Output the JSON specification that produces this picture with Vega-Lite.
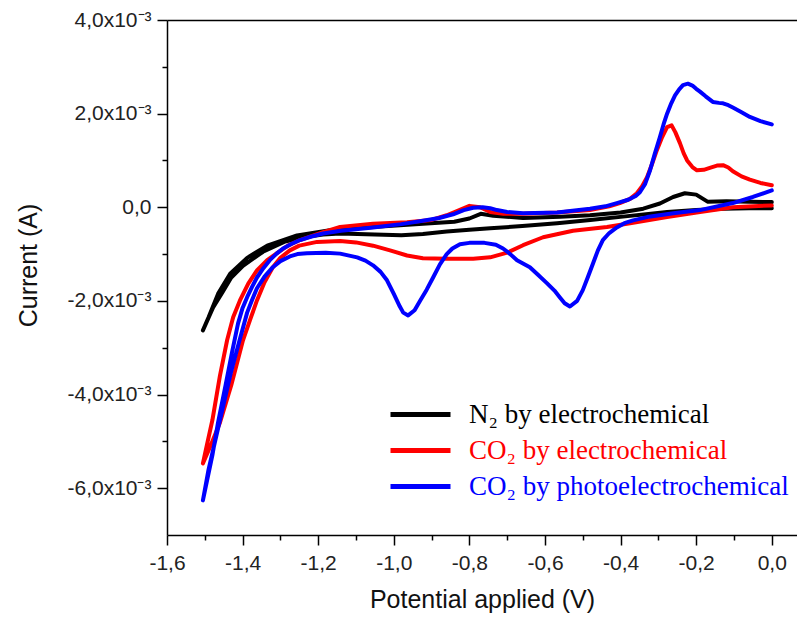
{
 "$schema": "https://vega.github.io/schema/vega-lite/v6.json",
 "width": 630, "height": 515,
 "autosize": {"type": "none"},
 "padding": {"left": 167, "top": 20, "right": 0, "bottom": 82},
 "background": "white",
 "config": {"view": {"stroke": null}, "axis": {"grid": false}},
 "data": {"values": [
  {"s":"N2","k":0,"V":0,"I":-0.00002},{"s":"N2","k":1,"V":-0.06,"I":-0.00002},{"s":"N2","k":2,"V":-0.129,"I":-0.00003},{"s":"N2","k":3,"V":-0.2,"I":-0.00006},{"s":"N2","k":4,"V":-0.277,"I":-0.0001},{"s":"N2","k":5,"V":-0.394,"I":-0.0002},{"s":"N2","k":6,"V":-0.48,"I":-0.00027},{"s":"N2","k":7,"V":-0.568,"I":-0.00034},{"s":"N2","k":8,"V":-0.66,"I":-0.0004},{"s":"N2","k":9,"V":-0.745,"I":-0.00045},{"s":"N2","k":10,"V":-0.8,"I":-0.00048},{"s":"N2","k":11,"V":-0.86,"I":-0.00052},{"s":"N2","k":12,"V":-0.923,"I":-0.00057},{"s":"N2","k":13,"V":-0.98,"I":-0.0006},{"s":"N2","k":14,"V":-1.05,"I":-0.00058},{"s":"N2","k":15,"V":-1.142,"I":-0.00056},{"s":"N2","k":16,"V":-1.187,"I":-0.00058},{"s":"N2","k":17,"V":-1.24,"I":-0.00064},{"s":"N2","k":18,"V":-1.29,"I":-0.00074},{"s":"N2","k":19,"V":-1.346,"I":-0.00095},{"s":"N2","k":20,"V":-1.399,"I":-0.00125},{"s":"N2","k":21,"V":-1.43,"I":-0.0015},{"s":"N2","k":22,"V":-1.452,"I":-0.0018},{"s":"N2","k":23,"V":-1.478,"I":-0.00214},{"s":"N2","k":24,"V":-1.505,"I":-0.00263},{"s":"N2","k":25,"V":-1.49,"I":-0.00235},{"s":"N2","k":26,"V":-1.465,"I":-0.00185},{"s":"N2","k":27,"V":-1.433,"I":-0.00142},{"s":"N2","k":28,"V":-1.388,"I":-0.00108},{"s":"N2","k":29,"V":-1.335,"I":-0.00082},{"s":"N2","k":30,"V":-1.256,"I":-0.0006},{"s":"N2","k":31,"V":-1.169,"I":-0.00049},{"s":"N2","k":32,"V":-1.055,"I":-0.00042},{"s":"N2","k":33,"V":-0.923,"I":-0.00035},{"s":"N2","k":34,"V":-0.84,"I":-0.00031},{"s":"N2","k":35,"V":-0.8,"I":-0.00024},{"s":"N2","k":36,"V":-0.77,"I":-0.00014},{"s":"N2","k":37,"V":-0.737,"I":-0.00018},{"s":"N2","k":38,"V":-0.658,"I":-0.00023},{"s":"N2","k":39,"V":-0.56,"I":-0.0002},{"s":"N2","k":40,"V":-0.481,"I":-0.00017},{"s":"N2","k":41,"V":-0.4,"I":-0.00011},{"s":"N2","k":42,"V":-0.34,"I":-0.00003},{"s":"N2","k":43,"V":-0.296,"I":0.00008},{"s":"N2","k":44,"V":-0.261,"I":0.00022},{"s":"N2","k":45,"V":-0.23,"I":0.0003},{"s":"N2","k":46,"V":-0.2,"I":0.00027},{"s":"N2","k":47,"V":-0.17,"I":0.00012},{"s":"N2","k":48,"V":-0.12,"I":0.00013},{"s":"N2","k":49,"V":-0.06,"I":0.00012},{"s":"N2","k":50,"V":0,"I":0.00011},

  {"s":"CO2e","k":0,"V":0,"I":0.00004},{"s":"CO2e","k":1,"V":-0.103,"I":0},{"s":"CO2e","k":2,"V":-0.19,"I":-0.0001},{"s":"CO2e","k":3,"V":-0.277,"I":-0.00021},{"s":"CO2e","k":4,"V":-0.367,"I":-0.00033},{"s":"CO2e","k":5,"V":-0.436,"I":-0.00042},{"s":"CO2e","k":6,"V":-0.526,"I":-0.0005},{"s":"CO2e","k":7,"V":-0.605,"I":-0.00064},{"s":"CO2e","k":8,"V":-0.658,"I":-0.00081},{"s":"CO2e","k":9,"V":-0.7,"I":-0.00097},{"s":"CO2e","k":10,"V":-0.745,"I":-0.00107},{"s":"CO2e","k":11,"V":-0.79,"I":-0.0011},{"s":"CO2e","k":12,"V":-0.86,"I":-0.0011},{"s":"CO2e","k":13,"V":-0.923,"I":-0.00109},{"s":"CO2e","k":14,"V":-0.965,"I":-0.00103},{"s":"CO2e","k":15,"V":-1.01,"I":-0.00092},{"s":"CO2e","k":16,"V":-1.055,"I":-0.00082},{"s":"CO2e","k":17,"V":-1.1,"I":-0.00075},{"s":"CO2e","k":18,"V":-1.142,"I":-0.00072},{"s":"CO2e","k":19,"V":-1.203,"I":-0.00074},{"s":"CO2e","k":20,"V":-1.25,"I":-0.00082},{"s":"CO2e","k":21,"V":-1.275,"I":-0.00092},{"s":"CO2e","k":22,"V":-1.3,"I":-0.00108},{"s":"CO2e","k":23,"V":-1.32,"I":-0.00128},{"s":"CO2e","k":24,"V":-1.342,"I":-0.0016},{"s":"CO2e","k":25,"V":-1.362,"I":-0.00199},{"s":"CO2e","k":26,"V":-1.38,"I":-0.0024},{"s":"CO2e","k":27,"V":-1.399,"I":-0.00284},{"s":"CO2e","k":28,"V":-1.43,"I":-0.0038},{"s":"CO2e","k":29,"V":-1.46,"I":-0.0046},{"s":"CO2e","k":30,"V":-1.485,"I":-0.0051},{"s":"CO2e","k":31,"V":-1.505,"I":-0.00547},{"s":"CO2e","k":32,"V":-1.495,"I":-0.0051},{"s":"CO2e","k":33,"V":-1.48,"I":-0.00455},{"s":"CO2e","k":34,"V":-1.46,"I":-0.0036},{"s":"CO2e","k":35,"V":-1.441,"I":-0.00284},{"s":"CO2e","k":36,"V":-1.425,"I":-0.00235},{"s":"CO2e","k":37,"V":-1.407,"I":-0.00199},{"s":"CO2e","k":38,"V":-1.385,"I":-0.00163},{"s":"CO2e","k":39,"V":-1.362,"I":-0.00135},{"s":"CO2e","k":40,"V":-1.335,"I":-0.00113},{"s":"CO2e","k":41,"V":-1.309,"I":-0.00098},{"s":"CO2e","k":42,"V":-1.28,"I":-0.00082},{"s":"CO2e","k":43,"V":-1.248,"I":-0.0007},{"s":"CO2e","k":44,"V":-1.187,"I":-0.00053},{"s":"CO2e","k":45,"V":-1.142,"I":-0.00042},{"s":"CO2e","k":46,"V":-1.055,"I":-0.00035},{"s":"CO2e","k":47,"V":-0.965,"I":-0.00032},{"s":"CO2e","k":48,"V":-0.9,"I":-0.00027},{"s":"CO2e","k":49,"V":-0.86,"I":-0.00017},{"s":"CO2e","k":50,"V":-0.833,"I":-0.00008},{"s":"CO2e","k":51,"V":-0.8,"I":0.00003},{"s":"CO2e","k":52,"V":-0.772,"I":0},{"s":"CO2e","k":53,"V":-0.745,"I":-0.0001},{"s":"CO2e","k":54,"V":-0.71,"I":-0.00014},{"s":"CO2e","k":55,"V":-0.658,"I":-0.00014},{"s":"CO2e","k":56,"V":-0.568,"I":-0.00011},{"s":"CO2e","k":57,"V":-0.481,"I":-0.00006},{"s":"CO2e","k":58,"V":-0.43,"I":0.00002},{"s":"CO2e","k":59,"V":-0.402,"I":0.00009},{"s":"CO2e","k":60,"V":-0.375,"I":0.00018},{"s":"CO2e","k":61,"V":-0.357,"I":0.0003},{"s":"CO2e","k":62,"V":-0.343,"I":0.00045},{"s":"CO2e","k":63,"V":-0.33,"I":0.00064},{"s":"CO2e","k":64,"V":-0.317,"I":0.00092},{"s":"CO2e","k":65,"V":-0.304,"I":0.00122},{"s":"CO2e","k":66,"V":-0.29,"I":0.0015},{"s":"CO2e","k":67,"V":-0.277,"I":0.00171},{"s":"CO2e","k":68,"V":-0.265,"I":0.00175},{"s":"CO2e","k":69,"V":-0.255,"I":0.0016},{"s":"CO2e","k":70,"V":-0.243,"I":0.00137},{"s":"CO2e","k":71,"V":-0.233,"I":0.00115},{"s":"CO2e","k":72,"V":-0.224,"I":0.001},{"s":"CO2e","k":73,"V":-0.21,"I":0.00086},{"s":"CO2e","k":74,"V":-0.198,"I":0.00079},{"s":"CO2e","k":75,"V":-0.18,"I":0.0008},{"s":"CO2e","k":76,"V":-0.164,"I":0.00084},{"s":"CO2e","k":77,"V":-0.145,"I":0.00089},{"s":"CO2e","k":78,"V":-0.129,"I":0.0009},{"s":"CO2e","k":79,"V":-0.115,"I":0.00085},{"s":"CO2e","k":80,"V":-0.103,"I":0.00077},{"s":"CO2e","k":81,"V":-0.08,"I":0.00066},{"s":"CO2e","k":82,"V":-0.058,"I":0.00059},{"s":"CO2e","k":83,"V":-0.03,"I":0.00052},{"s":"CO2e","k":84,"V":0,"I":0.00047},

  {"s":"CO2p","k":0,"V":0,"I":0.00036},{"s":"CO2p","k":1,"V":-0.05,"I":0.00022},{"s":"CO2p","k":2,"V":-0.103,"I":0.00009},{"s":"CO2p","k":3,"V":-0.19,"I":-0.00006},{"s":"CO2p","k":4,"V":-0.26,"I":-0.00013},{"s":"CO2p","k":5,"V":-0.33,"I":-0.00021},{"s":"CO2p","k":6,"V":-0.367,"I":-0.00028},{"s":"CO2p","k":7,"V":-0.39,"I":-0.00034},{"s":"CO2p","k":8,"V":-0.41,"I":-0.00043},{"s":"CO2p","k":9,"V":-0.43,"I":-0.00055},{"s":"CO2p","k":10,"V":-0.447,"I":-0.0007},{"s":"CO2p","k":11,"V":-0.46,"I":-0.00092},{"s":"CO2p","k":12,"V":-0.473,"I":-0.0012},{"s":"CO2p","k":13,"V":-0.487,"I":-0.0015},{"s":"CO2p","k":14,"V":-0.5,"I":-0.00177},{"s":"CO2p","k":15,"V":-0.515,"I":-0.002},{"s":"CO2p","k":16,"V":-0.534,"I":-0.00212},{"s":"CO2p","k":17,"V":-0.548,"I":-0.00205},{"s":"CO2p","k":18,"V":-0.56,"I":-0.00193},{"s":"CO2p","k":19,"V":-0.575,"I":-0.00178},{"s":"CO2p","k":20,"V":-0.595,"I":-0.00162},{"s":"CO2p","k":21,"V":-0.62,"I":-0.00143},{"s":"CO2p","k":22,"V":-0.64,"I":-0.00128},{"s":"CO2p","k":23,"V":-0.674,"I":-0.00113},{"s":"CO2p","k":24,"V":-0.695,"I":-0.00098},{"s":"CO2p","k":25,"V":-0.711,"I":-0.00088},{"s":"CO2p","k":26,"V":-0.73,"I":-0.0008},{"s":"CO2p","k":27,"V":-0.76,"I":-0.00076},{"s":"CO2p","k":28,"V":-0.8,"I":-0.00076},{"s":"CO2p","k":29,"V":-0.825,"I":-0.00079},{"s":"CO2p","k":30,"V":-0.845,"I":-0.00088},{"s":"CO2p","k":31,"V":-0.86,"I":-0.001},{"s":"CO2p","k":32,"V":-0.878,"I":-0.00122},{"s":"CO2p","k":33,"V":-0.896,"I":-0.0015},{"s":"CO2p","k":34,"V":-0.913,"I":-0.00176},{"s":"CO2p","k":35,"V":-0.93,"I":-0.00199},{"s":"CO2p","k":36,"V":-0.945,"I":-0.0022},{"s":"CO2p","k":37,"V":-0.962,"I":-0.00231},{"s":"CO2p","k":38,"V":-0.975,"I":-0.00225},{"s":"CO2p","k":39,"V":-0.984,"I":-0.00212},{"s":"CO2p","k":40,"V":-1.0,"I":-0.00185},{"s":"CO2p","k":41,"V":-1.018,"I":-0.00156},{"s":"CO2p","k":42,"V":-1.035,"I":-0.00138},{"s":"CO2p","k":43,"V":-1.055,"I":-0.00124},{"s":"CO2p","k":44,"V":-1.075,"I":-0.00114},{"s":"CO2p","k":45,"V":-1.097,"I":-0.00107},{"s":"CO2p","k":46,"V":-1.142,"I":-0.00099},{"s":"CO2p","k":47,"V":-1.18,"I":-0.00097},{"s":"CO2p","k":48,"V":-1.23,"I":-0.00098},{"s":"CO2p","k":49,"V":-1.255,"I":-0.001},{"s":"CO2p","k":50,"V":-1.275,"I":-0.00105},{"s":"CO2p","k":51,"V":-1.3,"I":-0.00115},{"s":"CO2p","k":52,"V":-1.32,"I":-0.00128},{"s":"CO2p","k":53,"V":-1.342,"I":-0.00148},{"s":"CO2p","k":54,"V":-1.362,"I":-0.00173},{"s":"CO2p","k":55,"V":-1.375,"I":-0.00198},{"s":"CO2p","k":56,"V":-1.388,"I":-0.00225},{"s":"CO2p","k":57,"V":-1.41,"I":-0.0029},{"s":"CO2p","k":58,"V":-1.43,"I":-0.0035},{"s":"CO2p","k":59,"V":-1.45,"I":-0.0042},{"s":"CO2p","k":60,"V":-1.47,"I":-0.0049},{"s":"CO2p","k":61,"V":-1.49,"I":-0.0056},{"s":"CO2p","k":62,"V":-1.505,"I":-0.00626},{"s":"CO2p","k":63,"V":-1.497,"I":-0.00595},{"s":"CO2p","k":64,"V":-1.48,"I":-0.0053},{"s":"CO2p","k":65,"V":-1.465,"I":-0.0046},{"s":"CO2p","k":66,"V":-1.445,"I":-0.0038},{"s":"CO2p","k":67,"V":-1.428,"I":-0.0031},{"s":"CO2p","k":68,"V":-1.412,"I":-0.00248},{"s":"CO2p","k":69,"V":-1.4,"I":-0.00215},{"s":"CO2p","k":70,"V":-1.388,"I":-0.00192},{"s":"CO2p","k":71,"V":-1.375,"I":-0.0017},{"s":"CO2p","k":72,"V":-1.362,"I":-0.0015},{"s":"CO2p","k":73,"V":-1.345,"I":-0.0013},{"s":"CO2p","k":74,"V":-1.328,"I":-0.00113},{"s":"CO2p","k":75,"V":-1.31,"I":-0.00099},{"s":"CO2p","k":76,"V":-1.293,"I":-0.00088},{"s":"CO2p","k":77,"V":-1.27,"I":-0.00078},{"s":"CO2p","k":78,"V":-1.248,"I":-0.0007},{"s":"CO2p","k":79,"V":-1.22,"I":-0.00063},{"s":"CO2p","k":80,"V":-1.187,"I":-0.00056},{"s":"CO2p","k":81,"V":-1.14,"I":-0.0005},{"s":"CO2p","k":82,"V":-1.055,"I":-0.00043},{"s":"CO2p","k":83,"V":-0.98,"I":-0.00036},{"s":"CO2p","k":84,"V":-0.923,"I":-0.00029},{"s":"CO2p","k":85,"V":-0.88,"I":-0.00023},{"s":"CO2p","k":86,"V":-0.843,"I":-0.00015},{"s":"CO2p","k":87,"V":-0.815,"I":-0.00006},{"s":"CO2p","k":88,"V":-0.79,"I":-0.00001},{"s":"CO2p","k":89,"V":-0.765,"I":0},{"s":"CO2p","k":90,"V":-0.745,"I":-0.00002},{"s":"CO2p","k":91,"V":-0.727,"I":-0.00006},{"s":"CO2p","k":92,"V":-0.7,"I":-0.0001},{"s":"CO2p","k":93,"V":-0.658,"I":-0.00013},{"s":"CO2p","k":94,"V":-0.568,"I":-0.00011},{"s":"CO2p","k":95,"V":-0.481,"I":-0.00003},{"s":"CO2p","k":96,"V":-0.44,"I":0.00002},{"s":"CO2p","k":97,"V":-0.41,"I":0.00009},{"s":"CO2p","k":98,"V":-0.38,"I":0.00016},{"s":"CO2p","k":99,"V":-0.36,"I":0.00024},{"s":"CO2p","k":100,"V":-0.349,"I":0.00032},{"s":"CO2p","k":101,"V":-0.335,"I":0.0005},{"s":"CO2p","k":102,"V":-0.322,"I":0.00079},{"s":"CO2p","k":103,"V":-0.31,"I":0.00113},{"s":"CO2p","k":104,"V":-0.296,"I":0.0015},{"s":"CO2p","k":105,"V":-0.286,"I":0.00178},{"s":"CO2p","k":106,"V":-0.277,"I":0.002},{"s":"CO2p","k":107,"V":-0.266,"I":0.00222},{"s":"CO2p","k":108,"V":-0.256,"I":0.00239},{"s":"CO2p","k":109,"V":-0.245,"I":0.00252},{"s":"CO2p","k":110,"V":-0.235,"I":0.00261},{"s":"CO2p","k":111,"V":-0.222,"I":0.00264},{"s":"CO2p","k":112,"V":-0.21,"I":0.0026},{"s":"CO2p","k":113,"V":-0.2,"I":0.00253},{"s":"CO2p","k":114,"V":-0.19,"I":0.00247},{"s":"CO2p","k":115,"V":-0.175,"I":0.00237},{"s":"CO2p","k":116,"V":-0.156,"I":0.00225},{"s":"CO2p","k":117,"V":-0.14,"I":0.00223},{"s":"CO2p","k":118,"V":-0.129,"I":0.00222},{"s":"CO2p","k":119,"V":-0.115,"I":0.00218},{"s":"CO2p","k":120,"V":-0.103,"I":0.00213},{"s":"CO2p","k":121,"V":-0.08,"I":0.00203},{"s":"CO2p","k":122,"V":-0.058,"I":0.00193},{"s":"CO2p","k":123,"V":-0.03,"I":0.00184},{"s":"CO2p","k":124,"V":0,"I":0.00177}
 ]},
 "layer": [
  {
   "mark": {"type": "line", "strokeOpacity": 0},
   "encoding": {
    "x": {"field": "V", "type": "quantitative", "scale": {"domain": [-1.6, 0.0667], "nice": false, "zero": false},
      "axis": {"orient": "top", "labels": false, "ticks": false, "title": null, "domainColor": "black", "domainWidth": 1.5, "grid": false}},
    "y": {"field": "I", "type": "quantitative", "scale": {"domain": [-0.007, 0.004], "nice": false, "zero": false},
      "axis": {"orient": "left",
        "values": [-0.006,-0.005,-0.004,-0.003,-0.002,-0.001,0,0.001,0.002,0.003,0.004],
        "labelExpr": "abs(round(datum.value*1000)) % 2 == 1 ? '' : (datum.value == 0 ? '0,0' : replace(replace(format(datum.value*1000, '.1f'), '.', ','), '\u2212', '-') + 'x10\u207b\u00b3')",
        "tickSize": {"condition": {"test": "abs(round(datum.value*1000)) % 2 == 1", "value": 5}, "value": 10},
        "tickColor": "black", "tickWidth": 1.5, "domainColor": "black", "domainWidth": 1.5,
        "labelFont": "Liberation Sans", "labelFontSize": 21, "labelColor": "#222", "labelPadding": 6,
        "labelFlush": false, "labelOverlap": false,
        "title": "Current (A)", "titleFont": "Liberation Sans", "titleFontSize": 25, "titleFontWeight": "normal", "titleColor": "#111",
        "titleX": -139, "titleY": 245, "titleAngle": -90, "titleAlign": "center", "titleBaseline": "middle", "grid": false}},
    "detail": {"field": "s", "type": "nominal"},
    "order": {"field": "k", "type": "quantitative"}
   }
  },
  {
   "mark": {"type": "line", "strokeWidth": 4, "strokeJoin": "round", "strokeCap": "round"},
   "encoding": {
    "x": {"field": "V", "type": "quantitative", "scale": {"domain": [-1.6, 0.0667], "nice": false, "zero": false},
      "axis": {"orient": "bottom",
        "values": [-1.6,-1.5,-1.4,-1.3,-1.2,-1.1,-1.0,-0.9,-0.8,-0.7,-0.6,-0.5,-0.4,-0.3,-0.2,-0.1,0],
        "labelExpr": "abs(round(datum.value*10)) % 2 == 1 ? '' : replace(replace(format(datum.value, '.1f'), '.', ','), '\u2212', '-')",
        "tickSize": {"condition": {"test": "abs(round(datum.value*10)) % 2 == 1", "value": 5}, "value": 10},
        "tickColor": "black", "tickWidth": 1.5, "domainColor": "black", "domainWidth": 1.5,
        "labelFont": "Liberation Sans", "labelFontSize": 21, "labelColor": "#222", "labelPadding": 7,
        "labelFlush": false, "labelOverlap": false,
        "title": "Potential applied (V)", "titleFont": "Liberation Sans", "titleFontSize": 25, "titleFontWeight": "normal", "titleColor": "#111", "titlePadding": 14, "grid": false}},
    "y": {"field": "I", "type": "quantitative", "scale": {"domain": [-0.007, 0.004], "nice": false, "zero": false},
      "axis": {"orient": "left",
        "values": [-0.006,-0.005,-0.004,-0.003,-0.002,-0.001,0,0.001,0.002,0.003,0.004],
        "labelExpr": "abs(round(datum.value*1000)) % 2 == 1 ? '' : (datum.value == 0 ? '0,0' : replace(replace(format(datum.value*1000, '.1f'), '.', ','), '\u2212', '-') + 'x10\u207b\u00b3')",
        "tickSize": {"condition": {"test": "abs(round(datum.value*1000)) % 2 == 1", "value": 5}, "value": 10},
        "tickColor": "black", "tickWidth": 1.5, "domainColor": "black", "domainWidth": 1.5,
        "labelFont": "Liberation Sans", "labelFontSize": 21, "labelColor": "#222", "labelPadding": 6,
        "labelFlush": false, "labelOverlap": false,
        "title": "Current (A)", "titleFont": "Liberation Sans", "titleFontSize": 25, "titleFontWeight": "normal", "titleColor": "#111",
        "titleX": -139, "titleY": 245, "titleAngle": -90, "titleAlign": "center", "titleBaseline": "middle", "grid": false}},
    "color": {"field": "s", "type": "nominal",
      "scale": {"domain": ["N2", "CO2e", "CO2p"], "range": ["#000000", "#ff0000", "#0000ff"]},
      "legend": {"orient": "none", "legendX": 240, "legendY": 381, "title": null, "padding": 0,
        "symbolType": "M-3,0L3,0", "symbolSize": 400, "symbolStrokeWidth": 5,
        "labelFont": "Liberation Serif", "labelFontSize": 27, "labelOffset": 35, "labelLimit": 600, "rowPadding": 8,
        "labelExpr": "datum.value == 'N2' ? 'N\u2082 by electrochemical' : datum.value == 'CO2e' ? 'CO\u2082 by electrochemical' : 'CO\u2082 by photoelectrochemical'",
        "encode": {"labels": {"update": {"fill": {"scale": "color", "field": "value"}}}}}},
    "order": {"field": "k", "type": "quantitative"}
   }
  }
 ],
 "resolve": {"axis": {"x": "independent"}}
}
